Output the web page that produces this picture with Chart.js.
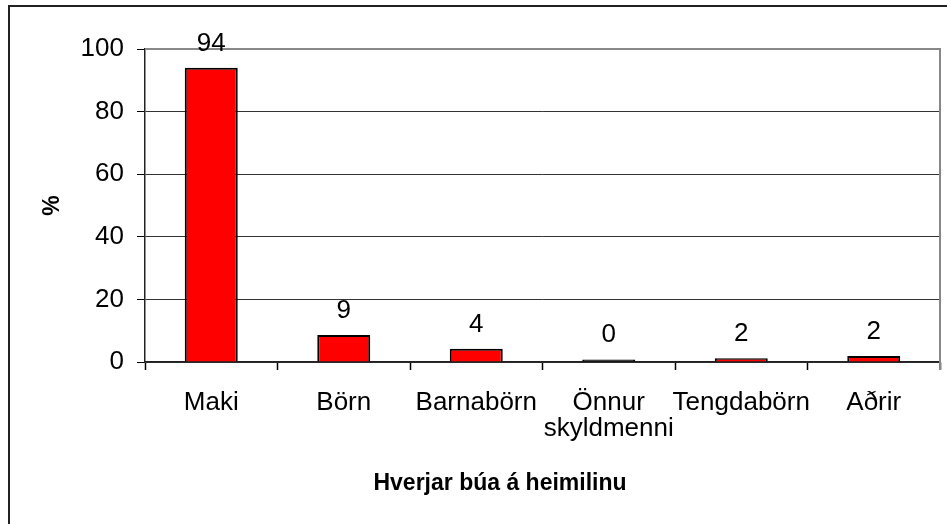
<!DOCTYPE html>
<html>
<head>
<meta charset="utf-8">
<script src="https://cdn.jsdelivr.net/npm/chart.js@4.4.1/dist/chart.umd.min.js"></script>
<style>
  body { margin: 0; background: #fff; }
  #wrap { width: 947px; height: 524px; }
</style>
</head>
<body>
<div id="wrap"><canvas id="chart" width="947" height="524"></canvas></div>
<script>
const categories = ['Maki', 'Börn', 'Barnabörn', ['Önnur', 'skyldmenni'], 'Tengdabörn', 'Aðrir'];
const percentValues = [94, 8.6, 4.2, 0.8, 1.2, 1.9];
const valueLabels = ['94', '9', '4', '0', '2', '2'];
const yTicks = [0, 20, 40, 60, 80, 100];
const xTitle = 'Hverjar búa á heimilinu';
const yTitle = '%';

const FONT = "'Liberation Sans', Arial, sans-serif";

// outer frame, plot border, and the x title (sits left of the plot centre like in Excel)
const frame = {
    id: 'frame',
    beforeDraw(chart) {
        const ctx = chart.ctx;
        ctx.save();
        ctx.fillStyle = '#fff';
        ctx.fillRect(0, 0, chart.width, chart.height);
        ctx.strokeStyle = '#222';
        ctx.lineWidth = 2;
        ctx.beginPath();
        ctx.moveTo(9, chart.height + 2);
        ctx.lineTo(9, 6);
        ctx.lineTo(chart.width + 2, 6);
        ctx.stroke();
        ctx.restore();
    },
    beforeDatasetsDraw(chart) {
        const { ctx, chartArea: a } = chart;
        ctx.save();
        ctx.strokeStyle = '#888';
        ctx.lineWidth = 2;
        ctx.beginPath();
        ctx.moveTo(a.left, a.top);
        ctx.lineTo(a.right, a.top);
        ctx.lineTo(a.right, a.bottom + 8);
        ctx.stroke();
        ctx.restore();
    },
    afterDraw(chart) {
        const ctx = chart.ctx;
        ctx.save();
        ctx.font = 'bold 23px ' + FONT;
        ctx.fillStyle = '#000';
        ctx.textAlign = 'center';
        ctx.textBaseline = 'middle';
        ctx.fillText(xTitle, 500, 484);
        ctx.restore();
    }
};

const barLabels = {
    id: 'barLabels',
    afterDatasetsDraw(chart) {
        const ctx = chart.ctx;
        ctx.save();
        ctx.font = '26px ' + FONT;
        ctx.fillStyle = '#000';
        ctx.textAlign = 'center';
        ctx.textBaseline = 'alphabetic';
        chart.getDatasetMeta(0).data.forEach((bar, i) => {
            ctx.fillText(valueLabels[i], bar.x, bar.y - 17);
        });
        ctx.restore();
    }
};

const chart = new Chart(document.getElementById('chart'), {
    type: 'bar',
    data: {
        labels: categories,
        datasets: [{
            data: percentValues,
            // a bar this flat is all outline in the original, so just fill it black
            backgroundColor: c => (c.raw < 1 ? '#000' : '#FF0000'),
            borderColor: '#000',
            borderWidth: 2,
            categoryPercentage: 1,
            barPercentage: 0.4
        }]
    },
    options: {
        animation: false, responsive: false, maintainAspectRatio: false,
        layout: { padding: { left: 0, top: 49, right: 7, bottom: 0 } },
        plugins: { legend: { display: false }, tooltip: { enabled: false } },
        scales: {
            x: {
                afterFit(scale) { scale.height = 162; },
                grid: { offset: true, drawOnChartArea: false, tickLength: 8, tickColor: '#000', tickWidth: 1.5 },
                border: { color: '#222', width: 1.5 },
                ticks: { color: '#000', font: { family: FONT, size: 26, lineHeight: 1.0 }, padding: 20, maxRotation: 0, minRotation: 0, autoSkip: false }
            },
            y: {
                min: 0, max: 100,
                afterFit(scale) { scale.width = 145; },
                afterBuildTicks(scale) { scale.ticks = yTicks.map(v => ({ value: v })); },
                grid: { color: '#333', lineWidth: 1, tickLength: 8, tickColor: '#000' },
                border: { color: '#222', width: 1.5 },
                ticks: { color: '#000', font: { family: FONT, size: 26 }, padding: 13 },
                title: { display: true, text: yTitle, color: '#000', font: { family: FONT, size: 23, weight: 'bold' }, padding: { top: 39, bottom: 0 } }
            }
        }
    },
    plugins: [frame, barLabels]
});
</script>
</body>
</html>
